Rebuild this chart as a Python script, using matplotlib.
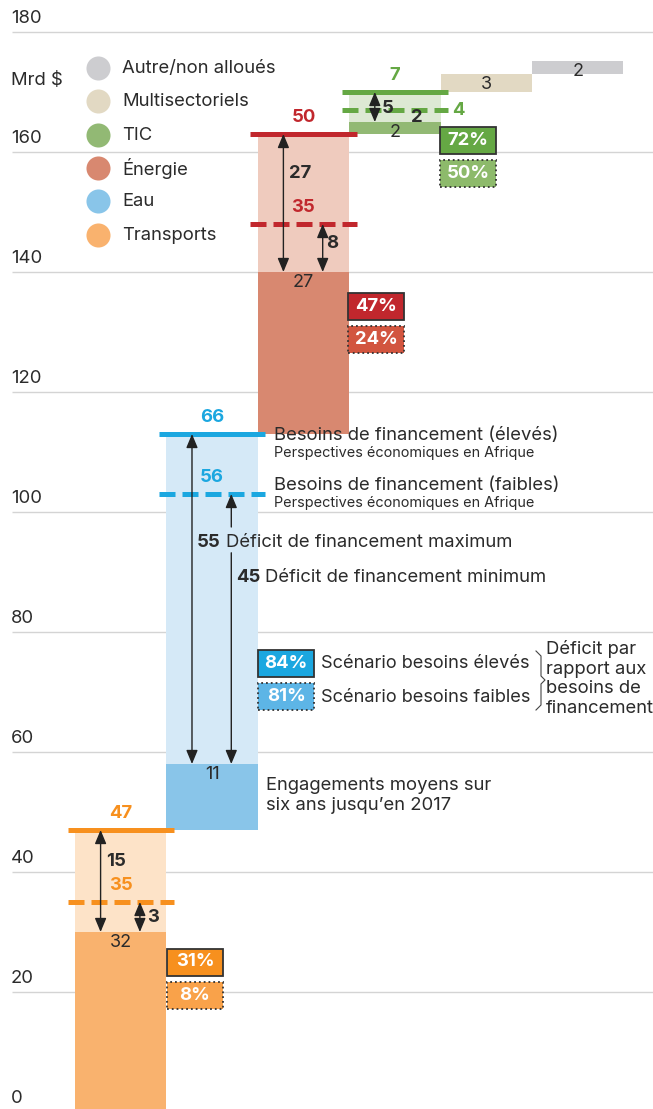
import numpy as np
import matplotlib
matplotlib.use("Agg")
import matplotlib.pyplot as plt
from matplotlib.patches import Rectangle

plt.rcParams['font.family'] = ['Inter', 'DejaVu Sans']

# ── Data ──────────────────────────────────────────────────────────────────────
categories     = ['Transports', 'Eau', 'Énergie', 'TIC', 'Multisectoriels', 'Autre/non alloués']
commitments    = [30, 11, 27, 2, 3, 2.2]          # bar heights as drawn
commit_labels  = ['32', '11', '27', '2', '3', '2']
needs_high     = [47, 66, 50, 7]
needs_low      = [35, 56, 35, 4]
gap_max_labels = ['15', '55', '27', '5']
gap_min_labels = ['3', '45', '8', '2']
pct_high       = ['31%', '84%', '47%', '72%']
pct_low        = ['8%', '81%', '24%', '50%']
yticks         = [0, 20, 40, 60, 80, 100, 120, 140, 160, 180]

# ── Style ─────────────────────────────────────────────────────────────────────
LINE    = ['#F7901E', '#1BA7E0', '#C1272D', '#65A844']
DARK    = ['#F9B26E', '#89C5E9', '#D88870', '#92B974', '#E2D9C3', '#CDCDD0']
LIGHT   = ['#FDE3C8', '#D5E9F7', '#EFCBBE', '#DDE9D4']
BOX_LOW = ['#F9A24A', '#5DB5E6', '#D2553F', '#8DBA6B']
TXT     = '#2b2b2b'
FS      = 13.3

# pixel -> data helpers for annotation layout
def PX(px): return (px - 75) / 91.4
def PY(py): return (1112 - py) / 6.0

fig = plt.figure(figsize=(6.53, 11.09), dpi=100)
ax = fig.add_axes([0, 0, 1, 1])
ax.set_xlim(PX(0), PX(653))
ax.set_ylim(PY(1109), PY(0))
ax.axis('off')

# grid + tick labels
ax.hlines(yticks, PX(12), PX(653), color='#d4d4d4', lw=1, zorder=0)
for t in yticks:
    ax.text(PX(11), t + 2.33, str(t), fontsize=FS, color=TXT, ha='left', va='center')
ax.text(PX(11), PY(80), 'Mrd $', fontsize=FS, color=TXT, ha='left', va='center')

# legend
leg_y = [68, 101, 135, 168, 201, 235]
for k, (name, col) in enumerate(zip(categories[::-1], DARK[::-1])):
    ax.scatter(PX(98), PY(leg_y[k]), s=300, color=col, zorder=3, linewidths=0)
    ax.text(PX(122), PY(leg_y[k]), name, fontsize=FS, color=TXT, ha='left', va='center')

# waterfall bases
bases = [0]
for i in range(len(categories) - 1):
    step = needs_high[i] if i < len(needs_high) else commitments[i]
    bases.append(bases[-1] + step)

arrow_kw = dict(arrowstyle='<|-|>,head_length=0.6,head_width=0.25', color='#222222',
                lw=1, mutation_scale=14, shrinkA=0, shrinkB=0)
half_kw = dict(arrowstyle='-|>,head_length=0.6,head_width=0.25', color='#222222',
               lw=1, mutation_scale=14, shrinkA=0, shrinkB=0)
arrow_breaks = {1: (93.2, 97.5)}   # where the small Eau arrow is hidden by text

for i, cat in enumerate(categories):
    b = bases[i]
    c = commitments[i]
    ax.bar(i, c, bottom=b, width=1, align='edge', color=DARK[i], lw=0, zorder=2)
    ax.text(i + 0.5, b + c - 1.8, commit_labels[i], fontsize=FS - 0.3, color=TXT,
            ha='center', va='center', zorder=5)
    if i >= len(needs_high):
        continue
    top = b + needs_high[i]
    low = b + needs_low[i]
    ax.bar(i, top - (b + c), bottom=b + c, width=1, align='edge', color=LIGHT[i], lw=0, zorder=1)
    ax.plot([i - 0.08, i + 1.08], [top, top], color=LINE[i], lw=3.6, solid_capstyle='butt', zorder=4)
    ax.plot([i - 0.08, i + 1.08], [low, low], color=LINE[i], lw=3.6, dashes=(3.2, 1.4),
            dash_capstyle='butt', zorder=4)

    # big gap arrow
    ax.annotate('', xy=(i + 0.28, top), xytext=(i + 0.28, b + c), arrowprops=arrow_kw, zorder=6)
    # small gap arrow
    if i == 3:
        pass
    elif i in arrow_breaks:
        lo, hi = arrow_breaks[i]
        ax.annotate('', xy=(i + 0.71, low), xytext=(i + 0.71, hi), arrowprops=half_kw, zorder=6)
        ax.annotate('', xy=(i + 0.71, b + c), xytext=(i + 0.71, lo), arrowprops=half_kw, zorder=6)
    else:
        ax.annotate('', xy=(i + 0.71, low), xytext=(i + 0.71, b + c), arrowprops=arrow_kw, zorder=6)

    # value labels for needs
    ax.text(i + 0.5, top + 2.8, str(needs_high[i]), fontsize=FS, fontweight='bold',
            color=LINE[i], ha='center', va='center')
    if i == 3:
        ax.text(PX(452), low, str(needs_low[i]), fontsize=FS, fontweight='bold',
                color=LINE[i], ha='left', va='center')
    else:
        ax.text(i + 0.5, low + 2.8, str(needs_low[i]), fontsize=FS, fontweight='bold',
                color=LINE[i], ha='center', va='center')

# gap labels (layout positions in px)
gap_max_pos = [(106, 861), (197, 542), (289, 173), (382, 108)]
gap_min_pos = [(147, 917), (236, 577), (326, 243), (411, 117)]
for i in range(4):
    x, y = gap_max_pos[i]
    ax.text(PX(x), PY(y), gap_max_labels[i], fontsize=FS, fontweight='bold', color=TXT,
            ha='left', va='center', zorder=7)
    x, y = gap_min_pos[i]
    ax.text(PX(x), PY(y), gap_min_labels[i], fontsize=FS, fontweight='bold', color=TXT,
            ha='left', va='center', zorder=7)
ax.text(PX(226), PY(542), 'Déficit de financement maximum', fontsize=FS, color=TXT,
        ha='left', va='center')
ax.text(PX(265), PY(577), 'Déficit de financement minimum', fontsize=FS, color=TXT,
        ha='left', va='center')

# percentage boxes
box_left = [167, 258, 348, 440]
box_y = [962, 663, 306, 140]
for i in range(4):
    x0 = PX(box_left[i])
    w = PX(box_left[i] + 56) - x0
    h = 27 / 6.0
    for k, (lab, fc, ls) in enumerate([(pct_high[i], LINE[i], '-'), (pct_low[i], BOX_LOW[i], ':')]):
        yc = PY(box_y[i] + 33 * k)
        ax.add_patch(Rectangle((x0, yc - h / 2), w, h, facecolor=fc, edgecolor='#333333',
                               lw=1.3, linestyle=ls, zorder=6))
        ax.text(x0 + w / 2, yc, lab, fontsize=FS, fontweight='bold', color='white',
                ha='center', va='center', zorder=7)

# annotations on the right
ax.text(PX(274), PY(435), 'Besoins de financement (élevés)', fontsize=FS, color=TXT,
        ha='left', va='center')
ax.text(PX(274), PY(453), 'Perspectives économiques en Afrique', fontsize=10.4, color=TXT,
        ha='left', va='center')
ax.text(PX(274), PY(485), 'Besoins de financement (faibles)', fontsize=FS, color=TXT,
        ha='left', va='center')
ax.text(PX(274), PY(503), 'Perspectives économiques en Afrique', fontsize=10.4, color=TXT,
        ha='left', va='center')
ax.text(PX(321), PY(664), 'Scénario besoins élevés', fontsize=FS - 0.2, color=TXT, ha='left', va='center')
ax.text(PX(321), PY(697), 'Scénario besoins faibles', fontsize=FS - 0.2, color=TXT, ha='left', va='center')
bx = [536, 541, 541, 545, 541, 541, 536]
by = [651, 656, 676, 680, 684, 705, 710]
ax.plot([PX(v) for v in bx], [PY(v) for v in by], color='#444444', lw=0.8)
ax.text(PX(546), PY(640), 'Déficit par\nrapport aux\nbesoins de\nfinancement', fontsize=FS,
        color=TXT, ha='left', va='top', linespacing=1.2)
ax.text(PX(266), PY(777), 'Engagements moyens sur\nsix ans jusqu\u2019en 2017', fontsize=FS,
        color=TXT, ha='left', va='top', linespacing=1.2)

fig.savefig('out.png', dpi=100)
